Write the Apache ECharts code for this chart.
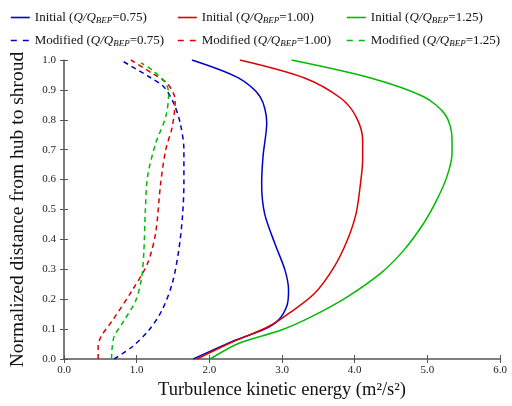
<!DOCTYPE html>
<html><head><meta charset="utf-8">
<script src="https://cdn.jsdelivr.net/npm/echarts@6/dist/echarts.min.js"></script>
<style>html,body{margin:0;padding:0;background:#fff}#c{width:512px;height:406px}</style>
</head><body><div id="c"></div>
<script>
// Tick labels
const xTicks = ['0.0','1.0','2.0','3.0','4.0','5.0','6.0'];
const yTicks = ['0.0','0.1','0.2','0.3','0.4','0.5','0.6','0.7','0.8','0.9','1.0'];

// Initial Q/QBEP=0.75 (solid blue): x = TKE, y = normalized distance
const init075_x = [1.78, 2.31, 2.76, 2.95, 3.07, 3.09, 3.04, 2.90, 2.76, 2.72, 2.74, 2.79, 2.70, 2.40, 1.76];
const init075_y = [0.00, 0.058, 0.10, 0.13, 0.18, 0.23, 0.298, 0.387, 0.487, 0.587, 0.68, 0.79, 0.877, 0.94, 1.00];
// Initial Q/QBEP=1.00 (solid red)
const init100_x = [1.83, 2.30, 2.81, 3.08, 3.45, 3.72, 3.90, 4.02, 4.08, 4.11, 4.11, 4.02, 3.81, 3.31, 2.42];
const init100_y = [0.00, 0.055, 0.108, 0.15, 0.22, 0.309, 0.398, 0.487, 0.587, 0.666, 0.732, 0.81, 0.872, 0.94, 1.00];
// Initial Q/QBEP=1.25 (solid green)
const init125_x = [2.01, 2.40, 2.99, 3.40, 3.90, 4.36, 4.68, 4.95, 5.13, 5.27, 5.34, 5.34, 5.25, 4.95, 4.22, 3.13];
const init125_y = [0.00, 0.052, 0.097, 0.141, 0.208, 0.287, 0.365, 0.454, 0.532, 0.61, 0.688, 0.738, 0.816, 0.877, 0.94, 1.00];
// Modified Q/QBEP=0.75 (dashed blue)
const mod075_x = [0.69, 0.94, 1.17, 1.35, 1.49, 1.58, 1.63, 1.65, 1.65, 1.60, 1.51, 1.375, 1.17, 0.78];
const mod075_y = [0.00, 0.041, 0.097, 0.164, 0.253, 0.365, 0.476, 0.587, 0.70, 0.788, 0.855, 0.91, 0.944, 1.00];
// Modified Q/QBEP=1.00 (dashed red)
const mod100_x = [0.47, 0.47, 0.51, 0.67, 0.94, 1.15, 1.26, 1.33, 1.40, 1.49, 1.53, 1.42, 1.216, 0.92];
const mod100_y = [0.00, 0.041, 0.075, 0.13, 0.23, 0.32, 0.42, 0.587, 0.70, 0.777, 0.866, 0.922, 0.955, 1.00];
// Modified Q/QBEP=1.25 (dashed green)
const mod125_x = [0.655, 0.66, 0.69, 0.83, 0.99, 1.07, 1.10, 1.12, 1.15, 1.26, 1.40, 1.44, 1.40, 1.216, 1.06];
const mod125_y = [0.00, 0.03, 0.075, 0.13, 0.197, 0.275, 0.365, 0.498, 0.61, 0.72, 0.81, 0.888, 0.922, 0.966, 0.99];

const colors = ['#0000cc', '#dd0000', '#00bb00'];
const zip = (xs, ys) => xs.map((v, i) => [v, ys[i]]);

const names = [
  'Initial (Q/QBEP=0.75)', 'Initial (Q/QBEP=1.00)', 'Initial (Q/QBEP=1.25)',
  'Modified (Q/QBEP=0.75)', 'Modified (Q/QBEP=1.00)', 'Modified (Q/QBEP=1.25)'
];
const datasets = [
  zip(init075_x, init075_y), zip(init100_x, init100_y), zip(init125_x, init125_y),
  zip(mod075_x, mod075_y), zip(mod100_x, mod100_y), zip(mod125_x, mod125_y)
];

const series = datasets.map((d, i) => ({
  name: names[i],
  type: 'line',
  data: d,
  smooth: 0.3,
  symbol: 'none',
  showSymbol: false,
  xAxisIndex: 0, yAxisIndex: 0,
  lineStyle: { color: colors[i % 3], width: 1.5, type: i < 3 ? 'solid' : [5, 4] },
  itemStyle: { color: colors[i % 3] }
}));

const serif = '"Liberation Serif","Times New Roman",serif';
const richText = {
  t: { fontFamily: serif, fontSize: 13, color: '#111' },
  i: { fontFamily: serif, fontSize: 13, fontStyle: 'italic', color: '#111' },
  s: { fontFamily: serif, fontSize: 9, fontStyle: 'italic', color: '#111', padding: [6, 0, 0, 0] }
};
function fmt(name) {
  const m = name.match(/^(\w+) \(Q\/QBEP=([\d.]+)\)$/);
  return '{t|' + m[1] + ' (}{i|Q/Q}{s|BEP}{t|=' + m[2] + ')}';
}
const legendPos = [[5, 6], [172, 6], [341, 6], [5, 29], [172, 29], [341, 29]];
const legends = names.map((n, i) => ({
  data: [n], left: legendPos[i][0], top: legendPos[i][1],
  itemWidth: 19, itemHeight: 12, itemGap: 0,
  formatter: fmt,
  itemStyle: { color: 'rgba(0,0,0,0)', borderWidth: 0, opacity: 0 },
  lineStyle: { width: 1.6, type: i < 3 ? 'solid' : [6, 6], dashOffset: 0 },
  textStyle: { rich: richText, fontFamily: serif, fontSize: 13 },
  selectedMode: false
}));

const axisColor = '#555';
const chart = echarts.init(document.getElementById('c'));
chart.setOption({
  animation: false,
  backgroundColor: '#fff',
  legend: legends,
  grid: { left: 61, right: 12, top: 60, bottom: 47, containLabel: false },
  xAxis: [{
    type: 'value', min: 0, max: 6, interval: 1,
    name: 'Turbulence kinetic energy (m\u00b2/s\u00b2)',
    nameLocation: 'middle', nameGap: 20,
    nameTextStyle: { fontFamily: serif, fontSize: 18.5, color: '#111' },
    axisLine: { show: true, lineStyle: { color: axisColor, width: 1.5 } },
    axisTick: { show: true, inside: false, length: 4, lineStyle: { color: axisColor } },
    axisLabel: { formatter: (v) => xTicks[Math.round(v)], fontFamily: serif, fontSize: 11, color: '#222', margin: 6 },
    splitLine: { show: false }
  }, {
    type: 'value', min: 0, max: 6, interval: 1, position: 'bottom', gridIndex: 0,
    axisLine: { show: false },
    axisTick: { show: true, inside: true, length: 4, lineStyle: { color: axisColor } },
    axisLabel: { show: false }, splitLine: { show: false }
  }],
  yAxis: [{
    type: 'value', min: 0, max: 1, interval: 0.1,
    name: 'Normalized distance from hub to shroud',
    nameLocation: 'middle', nameGap: 36, nameRotate: 90,
    nameTextStyle: { fontFamily: serif, fontSize: 19.5, color: '#111' },
    axisLine: { show: true, lineStyle: { color: axisColor, width: 1.5 } },
    axisTick: { show: true, inside: false, length: 4, lineStyle: { color: axisColor } },
    axisLabel: { formatter: (v) => yTicks[Math.round(v * 10)], fontFamily: serif, fontSize: 11, color: '#222', margin: 8 },
    splitLine: { show: false }
  }, {
    type: 'value', min: 0, max: 1, interval: 0.1, position: 'left', gridIndex: 0,
    axisLine: { show: false },
    axisTick: { show: true, inside: true, length: 4, lineStyle: { color: axisColor } },
    axisLabel: { show: false }, splitLine: { show: false }
  }],
  series: series
});
</script>
</body></html>
